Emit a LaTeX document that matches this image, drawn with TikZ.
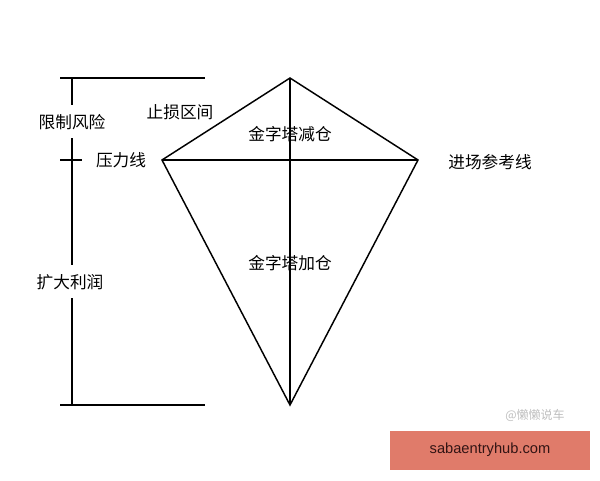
\documentclass[tikz,border=0pt]{standalone}
\usepackage{fontspec}
\setmainfont{Liberation Sans}
\newfontfamily\cjk{Noto Sans CJK SC}
\begin{document}
\begin{tikzpicture}[x=0.75pt,y=-0.75pt,line width=1.1pt,
  lbl/.style={font=\cjk\fontsize{12.5}{14}\selectfont,inner sep=1pt}]
\useasboundingbox (0,0) rectangle (600,480);
\fill[white] (0,0) rectangle (600,480);
\coordinate (T) at (290,78);
\coordinate (L) at (162,160);
\coordinate (R) at (418,160);
\coordinate (B) at (290,405);
\draw (T) -- (L) -- (B) -- (R) -- cycle;
\draw (L) -- (R);
\draw (T) -- (B);
% axis
\draw (60,78) -- (205,78);
\draw (60,405) -- (205,405);
\draw (72,78) -- (72,105);
\draw (72,138) -- (72,265);
\draw (72,298) -- (72,405);
\draw (60,160) -- (82,160);
\node[lbl] (a) at (72,122) {限制风险};
\node[lbl] (b) at (180,112) {止损区间};
\node[lbl] (c) at (121,160) {压力线};
\node[lbl] (d) at (290,134) {金字塔减仓};
\node[lbl] (e) at (490,162) {进场参考线};
\node[lbl] (f) at (290,263) {金字塔加仓};
\node[lbl] (g) at (70,282) {扩大利润};
\node[font=\cjk\fontsize{9}{10}\selectfont,text=black!25] (w) at (535,415) {@懒懒说车};
\fill[fill={rgb,255:red,224;green,123;blue,106}] (390,431) rectangle (590,470);
\node[font=\fontsize{11}{12}\selectfont,text={rgb,255:red,50;green,20;blue,20}] (s) at (490,450) {sabaentryhub.com};
\end{tikzpicture}
\end{document}
